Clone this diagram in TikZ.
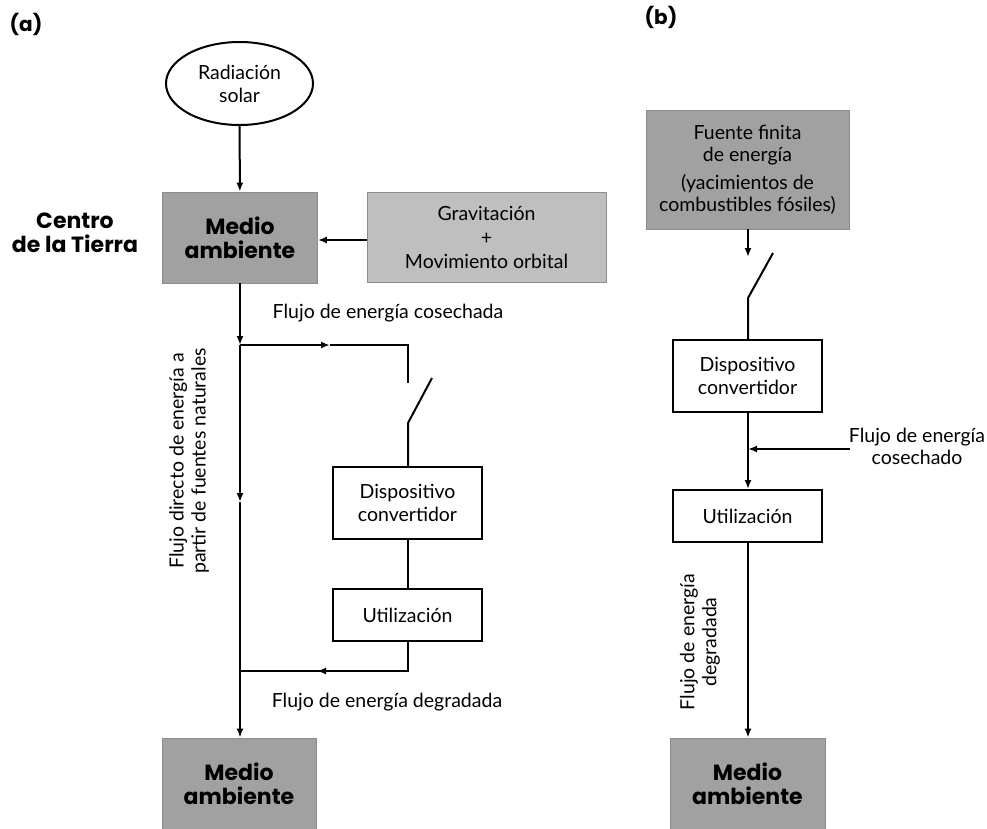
\documentclass[tikz,border=0pt]{standalone}
\usepackage{fontspec}
\setmainfont{Lato}
\newfontfamily\popp{Poppins}
\usetikzlibrary{arrows.meta,shapes.geometric}
\definecolor{boxdark}{gray}{0.63}
\definecolor{boxlight}{gray}{0.75}
\definecolor{boxedge}{gray}{0.55}
\tikzset{
  every picture/.style={x=1pt,y=-1pt},
  ln/.style={line width=2pt,draw=black},
  arr/.style={ln,-{Latex[length=9pt,width=7pt]}},
  wbox/.style={draw=black,line width=2pt,fill=white,align=center,inner sep=0pt,
     font=\fontsize{19.5}{23}\selectfont},
  gbox/.style={draw=boxedge,line width=0.8pt,fill=boxdark,align=center,inner sep=0pt},
  bigb/.style={font=\popp\fontsize{22}{24}\selectfont\bfseries},
  lbl/.style={align=center,inner sep=0pt,font=\fontsize{19.5}{22}\selectfont},
}
\begin{document}
\begin{tikzpicture}
\clip (0,0) rectangle (987,828);
\fill[white] (0,0) rectangle (987,828);
% ---- panel (a)
\node[inner sep=0pt,font=\popp\fontsize{20}{22}\selectfont\bfseries] (la) at (26,24) {(a)};
\node[draw=black,line width=2pt,ellipse,minimum width=147pt,minimum height=83pt,inner sep=0pt,
      align=center,font=\fontsize{19.5}{23}\selectfont] (rad) at (239.5,83.5) {Radiación\\solar};
\node[gbox,bigb,minimum width=155pt,minimum height=91pt] (ma1) at (240,237.5) {Medio\\ambiente};
\node[gbox,fill=boxlight,minimum width=239pt,minimum height=90pt,
      font=\fontsize{19.5}{24}\selectfont] (grav) at (486.5,237) {Gravitación\\+\\Movimiento orbital};
\node[inner sep=0pt,align=center,bigb] (centro) at (75,233) {Centro\\de la Tierra};
\node[wbox,minimum width=149pt,minimum height=72pt] (dc1) at (407.5,503) {Dispositivo\\convertidor};
\node[wbox,minimum width=149pt,minimum height=52pt] (ut1) at (407.5,615) {Utilización};
\node[gbox,bigb,minimum width=154pt,minimum height=92pt] (ma2) at (239,784) {Medio\\ambiente};
\coordinate (j1) at (240,345);
\coordinate (j2) at (240,502);
\coordinate (j3) at (240,671);
\coordinate (b1) at (408,345);
\coordinate (bm) at (330,345);
\coordinate (s1) at (408,383);
\coordinate (s2) at (408,423);
\coordinate (s3) at (432,378);
\coordinate (d1) at (408,671);
\coordinate (dm) at (317,671);
\draw[arr] (rad) -- (ma1);
\draw[arr] (grav.west |- 0,240) -- (ma1.east |- 0,240);
\draw[arr] (ma1.south -| j1) -- (j1);
\draw[arr] (j1) -- (j2);
\draw[arr] (j2) -- (ma2.north -| j2);
\draw[arr] (j1) -- (bm);
\draw[ln] (bm) -- (b1) -- (s1);
\draw[ln] (s3) -- (s2) -- (dc1.north -| s2);
\draw[ln] (dc1.south -| s2) -- (ut1.north -| s2);
\draw[ln] (ut1.south -| d1) -- (d1) -- (dm);
\draw[arr] (d1) -- (dm);
\draw[ln] (dm) -- (j3);
\node[lbl] (tcos) at (388,313) {Flujo de energía cosechada};
\node[lbl] (tdeg) at (387,702) {Flujo de energía degradada};
\node[lbl,rotate=90] (tdir) at (189,461) {Flujo directo de energía a\\partir de fuentes naturales};
% ---- panel (b)
\node[inner sep=0pt,font=\popp\fontsize{20}{22}\selectfont\bfseries] (lb) at (661,17) {(b)};
\node[gbox,minimum width=203pt,minimum height=119pt,font=\fontsize{19.5}{22}\selectfont] (ff) at (747.5,169.5)
  {Fuente finita\\de energía\\[6pt](yacimientos de\\combustibles fósiles)};
\node[wbox,minimum width=149pt,minimum height=72pt] (dc2) at (747.5,376) {Dispositivo\\convertidor};
\node[wbox,minimum width=149pt,minimum height=52pt] (ut2) at (747.5,516) {Utilización};
\node[gbox,bigb,minimum width=155pt,minimum height=92pt] (ma3) at (747.5,784) {Medio\\ambiente};
\coordinate (r1) at (748,257);
\coordinate (r2) at (748,298);
\coordinate (r3) at (773,253);
\coordinate (hin) at (850,449);
\coordinate (hj) at (748,449);
\draw[arr] (ff.south -| r1) -- (r1);
\draw[ln] (r3) -- (r2) -- (dc2.north -| r2);
\draw[arr] (dc2.south -| r2) -- (ut2.north -| r2);
\draw[arr] (hin) -- (hj);
\draw[arr] (ut2.south -| r2) -- (ma3.north -| r2);
\node[lbl] (tcos2) at (917,446) {Flujo de energía\\cosechado};
\node[lbl,rotate=90] (tdeg2) at (700,642) {Flujo de energía\\degradada};
\end{tikzpicture}
\end{document}
